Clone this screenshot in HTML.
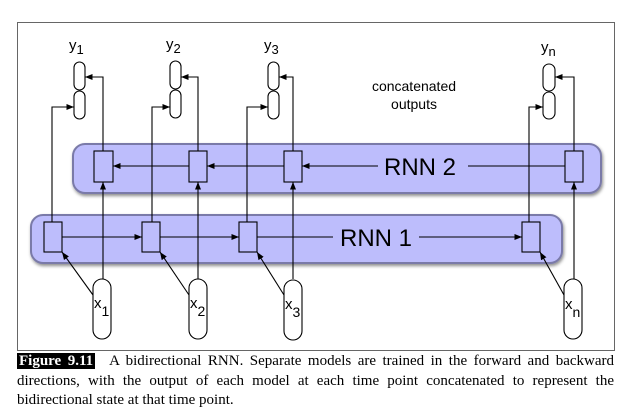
<!DOCTYPE html>
<html><head><style>
body{margin:0;width:627px;height:413px;background:#fff;overflow:hidden;position:relative}
.cap{position:absolute;left:17px;width:597px;top:352px;font-family:"Liberation Serif",serif;font-size:15px;line-height:19.5px;text-align:justify;text-align-last:left;color:#000}
.fig{background:#000;color:#fff;font-weight:bold;padding:0 2px;margin-right:14px}
</style></head><body>
<svg width="627" height="413" style="position:absolute;left:0;top:0" font-family="Liberation Sans, sans-serif">
<defs>
<marker id="a" viewBox="0 0 10 10" refX="10" refY="5" markerWidth="7" markerHeight="7" orient="auto-start-reverse"><path d="M0,1 L10,5 L0,9 z" fill="#000"/></marker>
<filter id="sh" x="-5%" y="-20%" width="110%" height="150%"><feDropShadow dx="1" dy="2" stdDeviation="1.5" flood-color="#000" flood-opacity="0.45"/></filter>
</defs>
<rect x="17.5" y="22.5" width="597" height="328" fill="#fff" stroke="#666" stroke-width="1"/>
<rect x="73" y="144" width="528" height="49" rx="12" fill="#bdbdfc" stroke="#7a7aa8" stroke-width="2" filter="url(#sh)"/>
<rect x="31" y="215" width="531" height="48" rx="12" fill="#bdbdfc" stroke="#7a7aa8" stroke-width="2" filter="url(#sh)"/>
<g stroke="#000" stroke-width="1.1" fill="none">
<line x1="189" y1="166" x2="113" y2="166" marker-end="url(#a)"/>
<line x1="284" y1="166" x2="207" y2="166" marker-end="url(#a)"/>
<line x1="378" y1="166" x2="302" y2="166" marker-end="url(#a)"/>
<line x1="565" y1="166" x2="468" y2="166"/>
<line x1="62" y1="237" x2="142" y2="237" marker-end="url(#a)"/>
<line x1="160" y1="237" x2="239" y2="237" marker-end="url(#a)"/>
<line x1="257" y1="237" x2="333" y2="237"/>
<line x1="419" y1="237" x2="522" y2="237" marker-end="url(#a)"/>
</g>
<text x="420" y="175" font-size="24" text-anchor="middle">RNN 2</text>
<text x="376" y="246" font-size="24" text-anchor="middle">RNN 1</text>
<text x="414" y="91" font-size="14" text-anchor="middle">concatenated</text>
<text x="414" y="109" font-size="14" text-anchor="middle">outputs</text>
<g stroke="#000" stroke-width="1.1">
<path d="M52,222 V107 H74" fill="none" marker-end="url(#a)"/>
<path d="M103,151 V77 H85" fill="none" marker-end="url(#a)"/>
<path d="M103,279 V182" fill="none" marker-end="url(#a)"/>
<path d="M93,295 L62,252" fill="none" marker-end="url(#a)"/>
<path d="M152,222 V107 H170" fill="none" marker-end="url(#a)"/>
<path d="M198,151 V77 H181" fill="none" marker-end="url(#a)"/>
<path d="M198,279 V182" fill="none" marker-end="url(#a)"/>
<path d="M189,295 L160,252" fill="none" marker-end="url(#a)"/>
<path d="M247,222 V107 H268" fill="none" marker-end="url(#a)"/>
<path d="M293,151 V77 H279" fill="none" marker-end="url(#a)"/>
<path d="M293,279 V182" fill="none" marker-end="url(#a)"/>
<path d="M284,295 L257,252" fill="none" marker-end="url(#a)"/>
<path d="M529,222 V107 H543" fill="none" marker-end="url(#a)"/>
<path d="M574,151 V77 H555" fill="none" marker-end="url(#a)"/>
<path d="M574,279 V182" fill="none" marker-end="url(#a)"/>
<path d="M564,295 L540,252" fill="none" marker-end="url(#a)"/>
</g>
<g fill="#bdbdfc" stroke="#000" stroke-width="1.1">
<rect x="94" y="151" width="19" height="31"/><rect x="189" y="151" width="18" height="31"/><rect x="284" y="151" width="18" height="31"/><rect x="565" y="151" width="18" height="31"/>
<rect x="44" y="222" width="18" height="30"/><rect x="142" y="222" width="18" height="30"/><rect x="239" y="222" width="18" height="30"/><rect x="522" y="222" width="18" height="30"/>
</g>
<g fill="#fff" stroke="#000" stroke-width="1.1">
<rect x="74" y="62" width="11" height="28" rx="5.5"/><rect x="74" y="91" width="11" height="28" rx="5.5"/>
<rect x="170" y="61" width="11" height="28" rx="5.5"/><rect x="170" y="90" width="11" height="28" rx="5.5"/>
<rect x="268" y="62" width="11" height="28" rx="5.5"/><rect x="268" y="91" width="11" height="28" rx="5.5"/>
<rect x="543" y="64" width="12" height="27" rx="6"/><rect x="543" y="92" width="12" height="27" rx="6"/>
<rect x="93" y="279" width="18" height="60" rx="9"/><rect x="189" y="279" width="18" height="60" rx="9"/><rect x="284" y="280" width="18" height="60" rx="9"/><rect x="564" y="279" width="18" height="60" rx="9"/>
</g>
<g font-size="15" fill="#000">
<text x="69" y="50">y<tspan font-size="13" dy="4">1</tspan></text>
<text x="166" y="49">y<tspan font-size="13" dy="4">2</tspan></text>
<text x="264" y="50">y<tspan font-size="13" dy="4">3</tspan></text>
<text x="541" y="52">y<tspan font-size="13" dy="4">n</tspan></text>
<text x="94" y="308">x<tspan font-size="14" dy="8">1</tspan></text>
<text x="190" y="308">x<tspan font-size="14" dy="8">2</tspan></text>
<text x="285" y="309">x<tspan font-size="14" dy="8">3</tspan></text>
<text x="565" y="309">x<tspan font-size="14" dy="8">n</tspan></text>
</g>
</svg>
<div class="cap"><span class="fig">Figure 9.11</span>A bidirectional RNN. Separate models are trained in the forward and backward directions, with the output of each model at each time point concatenated to represent the bidirectional state at that time point.</div>
</body></html>
